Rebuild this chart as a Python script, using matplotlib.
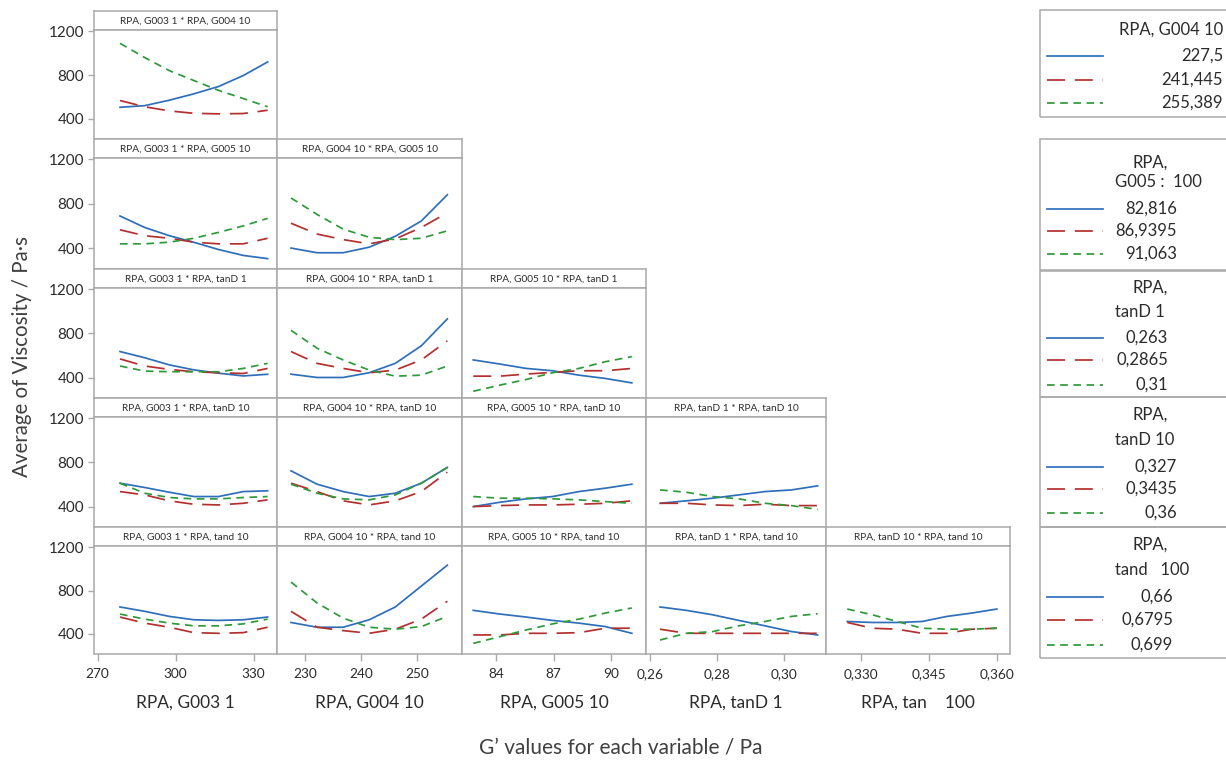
import matplotlib
matplotlib.use("Agg")
import matplotlib.pyplot as plt
from matplotlib.lines import Line2D
from matplotlib.patches import Rectangle

plt.rcParams["font.family"] = ["Lato", "DejaVu Sans"]
plt.rcParams["lines.scale_dashes"] = False

# ---- factor levels (x grid for each variable) ----
x_g003 = [278.6, 288.1, 297.6, 307.0, 316.5, 326.0, 335.4]
x_g004 = [227.5, 232.15, 236.8, 241.445, 246.1, 250.74, 255.389]
x_g005 = [82.816, 84.19, 85.57, 86.9395, 88.31, 89.69, 91.063]
x_tand1 = [0.263, 0.2708, 0.2787, 0.2865, 0.2943, 0.3022, 0.310]
x_tand10 = [0.327, 0.3325, 0.338, 0.3435, 0.349, 0.3545, 0.360]

# ---- mean viscosity for low / mid / high level of the trace variable ----
g003_x_g004 = ([505, 520, 570, 628, 695, 795, 920],
               [567, 510, 472, 450, 445, 448, 478],
               [1090, 960, 840, 750, 660, 585, 510])
g003_x_g005 = ([691, 588, 514, 455, 390, 337, 308],
               [567, 514, 491, 456, 441, 441, 491],
               [441, 441, 456, 491, 544, 602, 670])
g004_x_g005 = ([403, 361, 361, 411, 509, 646, 882],
               [626, 529, 479, 441, 485, 588, 720],
               [853, 705, 573, 500, 479, 491, 558])
g003_x_tand1 = ([636, 580, 515, 470, 440, 415, 430],
                [569, 505, 474, 453, 444, 437, 483],
                [505, 459, 453, 453, 453, 483, 529])
g004_x_tand1 = ([431, 401, 401, 444, 529, 688, 932],
                [636, 529, 483, 444, 468, 560, 733],
                [828, 666, 560, 468, 413, 422, 505])
g005_x_tand1 = ([560, 523, 483, 462, 422, 392, 352],
                [413, 413, 432, 447, 462, 462, 483],
                [276, 331, 383, 444, 483, 544, 590])
g003_x_tand10 = ([612, 573, 530, 491, 491, 536, 543],
                 [536, 506, 452, 421, 415, 430, 461],
                 [612, 521, 482, 470, 470, 482, 491])
g004_x_tand10 = ([724, 603, 536, 491, 521, 612, 755],
                 [612, 536, 452, 415, 452, 536, 712],
                 [603, 521, 470, 461, 506, 612, 755])
g005_x_tand10 = ([400, 439, 470, 491, 536, 567, 603],
                 [400, 409, 415, 415, 421, 430, 452],
                 [491, 476, 476, 470, 461, 445, 430])
tand1_x_tand10 = ([430, 452, 476, 506, 536, 551, 588],
                  [430, 430, 415, 409, 421, 409, 409],
                  [551, 530, 491, 470, 430, 409, 374])
g003_x_tand100 = ([649, 609, 562, 531, 525, 531, 556],
                  [556, 500, 462, 412, 406, 412, 462],
                  [584, 537, 500, 475, 475, 493, 537])
g004_x_tand100 = ([506, 462, 462, 531, 649, 842, 1035],
                  [609, 462, 431, 406, 444, 537, 702],
                  [879, 686, 546, 462, 444, 468, 562])
g005_x_tand100 = ([618, 584, 556, 525, 500, 468, 406],
                  [391, 391, 406, 406, 412, 453, 453],
                  [313, 375, 437, 493, 537, 593, 640])
tand1_x_tand100 = ([649, 618, 577, 525, 475, 422, 391],
                   [444, 406, 406, 406, 406, 406, 406],
                   [344, 406, 422, 475, 515, 562, 587])
tand10_x_tand100 = ([515, 506, 506, 515, 562, 593, 630],
                    [506, 453, 444, 406, 406, 444, 453],
                    [630, 577, 515, 453, 444, 444, 453])

# ---- labels ----
var_names = ["RPA, G003 1", "RPA, G004 10", "RPA, G005 10", "RPA, tanD 1",
             "RPA, tanD 10", "RPA, tand 10"]
x_axis_labels = ["RPA, G003 1", "RPA, G004 10", "RPA, G005 10", "RPA, tanD 1",
                 "RPA, tan    100"]
x_tick_values = [[270, 300, 330], [230, 240, 250], [84, 87, 90],
                 [0.26, 0.28, 0.30], [0.330, 0.345, 0.360]]
x_tick_labels = [["270", "300", "330"], ["230", "240", "250"], ["84", "87", "90"],
                 ["0,26", "0,28", "0,30"], ["0,330", "0,345", "0,360"]]
y_tick_values = [400, 800, 1200]
legend_titles = [["RPA, G004 10"], ["RPA,", "G005 :  100"], ["RPA,", "tanD 1"],
                 ["RPA,", "tanD 10"], ["RPA,", "tand   100"]]
legend_labels = [["227,5", "241,445", "255,389"],
                 ["82,816", "86,9395", "91,063"],
                 ["0,263", "0,2865", "0,31"],
                 ["0,327", "0,3435", "0,36"],
                 ["0,66", "0,6795", "0,699"]]

x_levels = [x_g003, x_g004, x_g005, x_tand1, x_tand10]
panels = [
    [g003_x_g004],
    [g003_x_g005, g004_x_g005],
    [g003_x_tand1, g004_x_tand1, g005_x_tand1],
    [g003_x_tand10, g004_x_tand10, g005_x_tand10, tand1_x_tand10],
    [g003_x_tand100, g004_x_tand100, g005_x_tand100, tand1_x_tand100, tand10_x_tand100],
]

# ---- styling ----
W, H = 1226, 762
BLUE, RED, GREEN = "#2f6fba", "#b3302f", "#2e9a3a"
FRAME = "#a9a9a9"
TEXT = "#2b2b2b"
styles = [dict(color=BLUE, linestyle="-"),
          dict(color=RED, dashes=(13, 7)),
          dict(color=GREEN, dashes=(5.5, 4))]
col_edges = [94, 277, 462, 646, 826, 1010]
row_tops = [11, 139, 269, 398, 527, 654]
STRIP = 19
x_limits = [(268.6, 339.0), (225.0, 258.0), (82.23, 91.8),
            (0.2588, 0.3125), (0.3223, 0.3629)]
y_limits = (215, 1212)


def fx(px):
    return px / W


def fy(py):
    return 1 - py / H


fig = plt.figure(figsize=(W / 100, H / 100), dpi=100)

for r in range(5):
    top, bottom = row_tops[r], row_tops[r + 1]
    for c in range(r + 1):
        x0, x1 = col_edges[c], col_edges[c + 1]
        # title strip
        sax = fig.add_axes([fx(x0), fy(top + STRIP), (x1 - x0) / W, STRIP / H])
        sax.set_xticks([])
        sax.set_yticks([])
        for s in sax.spines.values():
            s.set_color(FRAME)
            s.set_linewidth(1.1)
        sax.text(0.5, 0.45, f"{var_names[c]} * {var_names[r + 1]}",
                 ha="center", va="center", fontsize=7.3, color=TEXT,
                 transform=sax.transAxes)
        # plot area
        ax = fig.add_axes([fx(x0), fy(bottom), (x1 - x0) / W,
                           (bottom - top - STRIP) / H])
        for s in ax.spines.values():
            s.set_color(FRAME)
            s.set_linewidth(1.1)
        for series, st in zip(panels[r][c], styles):
            ax.plot(x_levels[c], series, lw=1.25, **st)
        ax.set_xlim(*x_limits[c])
        ax.set_ylim(*y_limits)
        ax.tick_params(colors=FRAME, labelcolor=TEXT, width=1.0)
        if c == 0:
            ax.set_yticks(y_tick_values)
            ax.set_yticklabels([str(v) for v in y_tick_values], fontsize=11)
            ax.tick_params(axis="y", length=4, pad=3)
        else:
            ax.set_yticks([])
        if r == 4:
            ax.set_xticks(x_tick_values[c])
            ax.set_xticklabels(x_tick_labels[c], fontsize=9.8)
            ax.tick_params(axis="x", length=5, pad=5)
            fig.text(fx((x0 + x1) / 2), fy(703), x_axis_labels[c],
                     ha="center", va="center", fontsize=12.5, color=TEXT)
        else:
            ax.set_xticks([])

# axis titles
fig.text(fx(22), fy(357), "Average of Viscosity / Pa·s", rotation=90,
         ha="center", va="center", fontsize=14.8, color="#404040")
fig.text(fx(621), fy(748), "G’ values for each variable / Pa",
         ha="center", va="center", fontsize=15, color="#404040")

# legends, one per row of the matrix
legend_boxes = [(10, 117), (139, 270), (271, 397), (397, 527), (527, 658)]
title_rows = [[30], [163, 182], [288, 312], [415, 440], [545, 570]]
entry_rows = [[56, 80, 103], [209, 231, 254], [338, 360, 385],
              [467, 489, 513], [597, 620, 645]]
label_right = [1223, 1177, 1168, 1177, 1173]
title_left = [None, 1115, 1115, 1115, 1115]

for i in range(5):
    y0, y1 = legend_boxes[i]
    fig.add_artist(Rectangle((fx(1040), fy(y1)), (1250 - 1040) / W,
                             (y1 - y0) / H, transform=fig.transFigure,
                             facecolor="none", edgecolor=FRAME, lw=1.1))
    for k, line in enumerate(legend_titles[i]):
        if i == 0:
            fig.text(fx(1223), fy(title_rows[i][k]), line, ha="right",
                     va="center", fontsize=12, color=TEXT)
        elif k == 0:
            fig.text(fx(1150), fy(title_rows[i][k]), line, ha="center",
                     va="center", fontsize=12, color=TEXT)
        else:
            fig.text(fx(title_left[i]), fy(title_rows[i][k]), line, ha="left",
                     va="center", fontsize=12, color=TEXT)
    for k, st in enumerate(styles):
        yy = fy(entry_rows[i][k])
        fig.add_artist(Line2D([fx(1047), fx(1103)], [yy, yy], lw=1.25,
                              transform=fig.transFigure, **st))
        fig.text(fx(label_right[i]), yy, legend_labels[i][k], ha="right",
                 va="center", fontsize=12, color=TEXT)

fig.savefig("out.png", dpi=100)
